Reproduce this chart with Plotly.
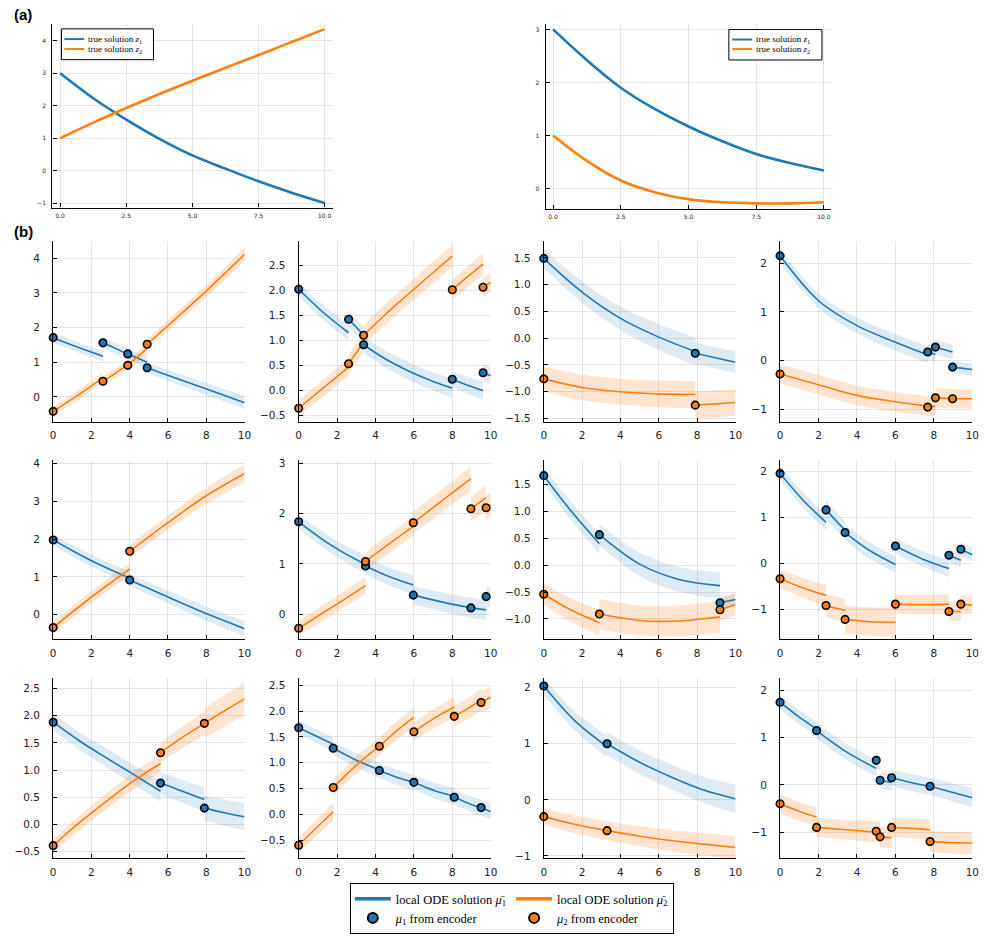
import plotly.graph_objects as go

W, H = 987, 938
BLUE = "#1f77b4"
ORANGE = "#ff7f0e"
BAND_BLUE = "rgba(31,119,180,0.15)"
BAND_ORANGE = "rgba(255,127,14,0.2)"

# ---------------- (a) true solutions ----------------
A_T = [0, 1.25, 2.5, 3.75, 5, 6.25, 7.5, 8.75, 10]
A1_Z1 = [3.0, 2.23, 1.57, 0.98, 0.47, 0.06, -0.33, -0.68, -1.0]
A1_Z2 = [1.0, 1.48, 1.93, 2.36, 2.77, 3.17, 3.56, 3.96, 4.36]
A2_Z1 = [3.0, 2.42, 1.90, 1.50, 1.17, 0.89, 0.65, 0.48, 0.34]
A2_Z2 = [1.0, 0.52, 0.15, -0.07, -0.20, -0.26, -0.28, -0.28, -0.26]
A_NAMES = ["true solution <i>z</i><sub>1</sub>", "true solution <i>z</i><sub>2</sub>"]

# ---------------- (b) panels ----------------
# row 1, col 1
B11_ENC_T = [0, 2.6, 3.9, 4.91]
B11_MU1 = [1.71, 1.56, 1.24, 0.84]
B11_MU2 = [-0.42, 0.45, 0.91, 1.52]
B11_SEG_T = [[0, 1.3, 2.6], [2.6, 3.25, 3.9], [3.9, 4.4, 4.91], [4.91, 6.2, 7.5, 8.75, 10]]
B11_SEG_M1 = [[1.71, 1.43, 1.17], [1.56, 1.40, 1.23], [1.24, 1.12, 1.0], [0.84, 0.58, 0.33, 0.08, -0.17]]
B11_SEG_M2 = [[-0.42, 0.05, 0.55], [0.45, 0.68, 0.93], [0.91, 1.15, 1.40], [1.52, 2.16, 2.80, 3.45, 4.12]]
B11_SEG_S1 = [[0.14, 0.15, 0.16], [0.15, 0.15, 0.16], [0.15, 0.16, 0.16], [0.15, 0.16, 0.17, 0.18, 0.19]]
B11_SEG_S2 = [[0.13, 0.14, 0.15], [0.14, 0.14, 0.15], [0.14, 0.15, 0.15], [0.14, 0.16, 0.17, 0.18, 0.19]]

# row 1, col 2
B12_ENC_T = [0, 2.6, 3.38, 8.0, 9.6]
B12_MU1 = [2.03, 1.43, 0.92, 0.23, 0.36]
B12_MU2 = [-0.35, 0.54, 1.11, 2.02, 2.07]
B12_SEG_T = [[0, 1.3, 2.6], [2.6, 3.0, 3.38], [3.38, 4.5, 5.7, 6.9, 8.0], [8.0, 8.8, 9.6], [9.6, 10]]
B12_SEG_M1 = [[2.03, 1.56, 1.16], [1.43, 1.27, 1.12], [0.92, 0.64, 0.40, 0.20, 0.05], [0.23, 0.11, 0.0], [0.36, 0.30]]
B12_SEG_M2 = [[-0.35, 0.06, 0.47], [0.54, 0.76, 0.98], [1.11, 1.52, 1.93, 2.33, 2.69], [2.02, 2.28, 2.53], [2.07, 2.17]]
B12_SEG_S1 = [[0.14, 0.15, 0.16], [0.15, 0.16, 0.16], [0.16, 0.17, 0.18, 0.18, 0.19], [0.16, 0.17, 0.18], [0.17, 0.17]]
B12_SEG_S2 = [[0.16, 0.17, 0.18], [0.18, 0.19, 0.2], [0.2, 0.21, 0.21, 0.22, 0.22], [0.2, 0.21, 0.22], [0.2, 0.2]]

# row 1, col 3
B13_ENC_T = [0, 7.9]
B13_MU1 = [1.49, -0.28]
B13_MU2 = [-0.76, -1.25]
B13_SEG_T = [[0, 2, 4, 6, 7.9], [7.9, 10]]
B13_SEG_M1 = [[1.49, 0.86, 0.37, 0.02, -0.25], [-0.28, -0.45]]
B13_SEG_M2 = [[-0.76, -0.92, -1.00, -1.04, -1.05], [-1.25, -1.20]]
B13_SEG_S1 = [[0.18, 0.2, 0.22, 0.24, 0.26], [0.2, 0.2]]
B13_SEG_S2 = [[0.23, 0.24, 0.24, 0.25, 0.25], [0.25, 0.25]]

# row 1, col 4
B14_ENC_T = [0, 7.68, 8.08, 8.97]
B14_MU1 = [2.15, 0.18, 0.28, -0.13]
B14_MU2 = [-0.27, -0.95, -0.76, -0.78]
B14_SEG_T = [[0, 2, 4, 6, 7.68], [7.68, 8.08], [8.08, 8.5, 8.97], [8.97, 10]]
B14_SEG_M1 = [[2.15, 1.23, 0.72, 0.38, 0.12], [0.18, 0.13], [0.28, 0.23, 0.18], [-0.13, -0.18]]
B14_SEG_M2 = [[-0.27, -0.49, -0.71, -0.84, -0.93], [-0.95, -0.93], [-0.76, -0.77, -0.78], [-0.78, -0.78]]
B14_SEG_S1 = [[0.14, 0.15, 0.16, 0.17, 0.17], [0.15, 0.15], [0.15, 0.15, 0.15], [0.12, 0.12]]
B14_SEG_S2 = [[0.2, 0.2, 0.2, 0.2, 0.2], [0.2, 0.2], [0.2, 0.2, 0.2], [0.2, 0.2]]

# row 2, col 1
B21_ENC_T = [0, 4.0]
B21_MU1 = [1.98, 0.92]
B21_MU2 = [-0.34, 1.68]
B21_SEG_T = [[0, 2, 4], [4, 6, 8, 10]]
B21_SEG_M1 = [[1.98, 1.43, 0.97], [0.92, 0.47, 0.03, -0.37]]
B21_SEG_M2 = [[-0.34, 0.47, 1.21], [1.68, 2.44, 3.15, 3.74]]
B21_SEG_S1 = [[0.15, 0.16, 0.17], [0.16, 0.17, 0.19, 0.2]]
B21_SEG_S2 = [[0.15, 0.16, 0.17], [0.17, 0.19, 0.22, 0.24]]

# row 2, col 2
B22_ENC_T = [0, 3.48, 5.97, 8.97, 9.76]
B22_MU1 = [1.84, 0.96, 0.38, 0.125, 0.35]
B22_MU2 = [-0.28, 1.05, 1.82, 2.10, 2.12]
B22_SEG_T = [[0, 1.74, 3.48], [3.48, 4.7, 5.97], [5.97, 7.5, 8.97], [8.97, 9.76], [9.76, 10]]
B22_SEG_M1 = [[1.84, 1.36, 0.99], [0.96, 0.75, 0.58], [0.38, 0.24, 0.125], [0.125, 0.085], [0.35, 0.33]]
B22_SEG_M2 = [[-0.28, 0.14, 0.57], [1.05, 1.40, 1.75], [1.82, 2.27, 2.70], [2.10, 2.32], [2.12, 2.18]]
B22_SEG_S1 = [[0.14, 0.16, 0.18], [0.17, 0.18, 0.19], [0.18, 0.19, 0.2], [0.2, 0.2], [0.2, 0.2]]
B22_SEG_S2 = [[0.15, 0.16, 0.17], [0.18, 0.19, 0.2], [0.22, 0.23, 0.24], [0.24, 0.25], [0.25, 0.25]]

# row 2, col 3
B23_ENC_T = [0, 2.9, 9.19]
B23_MU1 = [1.67, 0.57, -0.70]
B23_MU2 = [-0.54, -0.91, -0.83]
B23_SEG_T = [[0, 1.45, 2.9], [2.9, 5, 7, 9.19], [9.19, 10]]
B23_SEG_M1 = [[1.67, 1.0, 0.40], [0.57, 0.02, -0.26, -0.38], [-0.70, -0.64]]
B23_SEG_M2 = [[-0.54, -0.84, -1.07], [-0.91, -1.03, -1.04, -0.96], [-0.83, -0.73]]
B23_SEG_S1 = [[0.15, 0.17, 0.19], [0.2, 0.22, 0.23, 0.24], [0.12, 0.12]]
B23_SEG_S2 = [[0.2, 0.22, 0.24], [0.28, 0.28, 0.29, 0.3], [0.2, 0.2]]

# row 2, col 4
B24_ENC_T = [0, 2.39, 3.38, 6.0, 8.78, 9.4]
B24_MU1 = [1.95, 1.16, 0.67, 0.38, 0.18, 0.31]
B24_MU2 = [-0.33, -0.91, -1.21, -0.88, -1.04, -0.88]
B24_SEG_T = [[0, 1.2, 2.39], [2.39, 2.9, 3.38], [3.38, 4.7, 6.0], [6.0, 7.4, 8.78], [8.78, 9.4], [9.4, 10]]
B24_SEG_M1 = [[1.95, 1.37, 0.89], [1.16, 0.93, 0.72], [0.67, 0.27, -0.02], [0.38, 0.10, -0.11], [0.18, 0.07], [0.31, 0.19]]
B24_SEG_M2 = [[-0.33, -0.53, -0.69], [-0.91, -0.97, -1.01], [-1.21, -1.26, -1.27], [-0.88, -0.89, -0.88], [-1.04, -1.04], [-0.88, -0.90]]
B24_SEG_S1 = [[0.15, 0.16, 0.17], [0.2, 0.2, 0.2], [0.17, 0.18, 0.18], [0.16, 0.17, 0.18], [0.15, 0.15], [0.15, 0.15]]
B24_SEG_S2 = [[0.2, 0.21, 0.22], [0.25, 0.25, 0.25], [0.3, 0.31, 0.32], [0.21, 0.21, 0.21], [0.2, 0.2], [0.2, 0.2]]

# row 3, col 1
B31_ENC_T = [0, 5.61, 7.9]
B31_MU1 = [1.88, 0.76, 0.30]
B31_MU2 = [-0.39, 1.32, 1.86]
B31_SEG_T = [[0, 1.4, 2.8, 4.2, 5.61], [5.61, 6.75, 7.9], [7.9, 9, 10]]
B31_SEG_M1 = [[1.88, 1.53, 1.22, 0.92, 0.61], [0.76, 0.61, 0.46], [0.30, 0.21, 0.14]]
B31_SEG_M2 = [[-0.39, 0.04, 0.43, 0.80, 1.12], [1.32, 1.60, 1.86], [1.86, 2.10, 2.31]]
B31_SEG_S1 = [[0.15, 0.16, 0.17, 0.18, 0.19], [0.2, 0.21, 0.22], [0.23, 0.24, 0.25]]
B31_SEG_S2 = [[0.13, 0.14, 0.15, 0.16, 0.17], [0.18, 0.2, 0.22], [0.27, 0.29, 0.3]]

# row 3, col 2
B32_ENC_T = [0, 1.8, 4.2, 6.0, 8.1, 9.5]
B32_MU1 = [1.68, 1.28, 0.85, 0.62, 0.33, 0.13]
B32_MU2 = [-0.6, 0.52, 1.32, 1.60, 1.90, 2.17]
B32_SEG_T = [[0, 0.9, 1.8], [1.8, 3.0, 4.2], [4.2, 5.1, 6.0], [6.0, 7.05, 8.1], [8.1, 8.8, 9.5], [9.5, 10]]
B32_SEG_M1 = [[1.68, 1.52, 1.36], [1.28, 1.05, 0.86], [0.85, 0.72, 0.62], [0.62, 0.46, 0.35], [0.33, 0.22, 0.12], [0.13, 0.05]]
B32_SEG_M2 = [[-0.6, -0.27, 0.05], [0.52, 0.95, 1.32], [1.32, 1.62, 1.88], [1.60, 1.86, 2.08], [1.90, 2.05, 2.22], [2.17, 2.27]]
B32_SEG_S1 = [[0.13, 0.13, 0.14], [0.13, 0.14, 0.15], [0.14, 0.15, 0.15], [0.14, 0.15, 0.16], [0.15, 0.15, 0.16], [0.15, 0.15]]
B32_SEG_S2 = [[0.15, 0.16, 0.17], [0.16, 0.17, 0.18], [0.17, 0.18, 0.19], [0.18, 0.19, 0.2], [0.2, 0.2, 0.21], [0.21, 0.21]]

# row 3, col 3
B33_ENC_T = [0, 3.3]
B33_MU1 = [2.03, 1.0]
B33_MU2 = [-0.3, -0.55]
B33_SEG_T = [[0, 1.65, 3.3], [3.3, 5, 6.7, 8.3, 10]]
B33_SEG_M1 = [[2.03, 1.40, 0.95], [1.0, 0.67, 0.40, 0.18, 0.02]]
B33_SEG_M2 = [[-0.3, -0.44, -0.55], [-0.55, -0.65, -0.73, -0.79, -0.85]]
B33_SEG_S1 = [[0.15, 0.17, 0.19], [0.2, 0.21, 0.22, 0.23, 0.25]]
B33_SEG_S2 = [[0.15, 0.16, 0.17], [0.17, 0.18, 0.19, 0.2, 0.2]]

# row 3, col 4
B34_ENC_T = [0, 1.9, 5.0, 5.2, 5.8, 7.8]
B34_MU1 = [1.75, 1.15, 0.52, 0.1, 0.15, -0.03]
B34_MU2 = [-0.4, -0.9, -0.98, -1.1, -0.9, -1.2]
B34_SEG_T = [[0, 0.95, 1.9], [1.9, 3.45, 5.0], [5.0, 5.2], [5.2, 5.8], [5.8, 6.8, 7.8], [7.8, 8.9, 10]]
B34_SEG_M1 = [[1.75, 1.45, 1.18], [1.15, 0.70, 0.35], [0.52, 0.49], [0.1, 0.05], [0.15, 0.05, -0.03], [-0.03, -0.15, -0.27]]
B34_SEG_M2 = [[-0.4, -0.55, -0.68], [-0.9, -0.95, -1.0], [-0.98, -0.99], [-1.1, -1.12], [-0.9, -0.92, -0.95], [-1.2, -1.22, -1.23]]
B34_SEG_S1 = [[0.15, 0.15, 0.16], [0.16, 0.17, 0.18], [0.17, 0.17], [0.17, 0.17], [0.17, 0.18, 0.18], [0.18, 0.19, 0.2]]
B34_SEG_S2 = [[0.2, 0.2, 0.2], [0.2, 0.21, 0.22], [0.22, 0.22], [0.22, 0.22], [0.2, 0.21, 0.22], [0.22, 0.23, 0.24]]

# y-axis ranges and ticks of the (b) panels
B_YRANGE = [[-0.72, 4.51], [-0.62, 3.0], [-1.56, 1.82], [-1.25, 2.46],
            [-0.65, 4.11], [-0.5, 3.08], [-1.38, 1.97], [-1.64, 2.25],
            [-0.62, 2.70], [-0.85, 2.65], [-1.04, 2.18], [-1.55, 2.27]]
B_YTICKS = [[0, 1, 2, 3, 4], [-0.5, 0, 0.5, 1, 1.5, 2, 2.5], [-1.5, -1, -0.5, 0, 0.5, 1, 1.5], [-1, 0, 1, 2],
            [0, 1, 2, 3, 4], [0, 1, 2, 3], [-1, -0.5, 0, 0.5, 1, 1.5], [-1, 0, 1, 2],
            [-0.5, 0, 0.5, 1, 1.5, 2, 2.5], [-0.5, 0, 0.5, 1, 1.5, 2, 2.5], [-1, 0, 1, 2], [-1, 0, 1, 2]]
B_XTICKS = [0, 2, 4, 6, 8, 10]
A_XTICKS = [0, 2.5, 5, 7.5, 10]

PANELS = [
    (B11_ENC_T, B11_MU1, B11_MU2, B11_SEG_T, B11_SEG_M1, B11_SEG_M2, B11_SEG_S1, B11_SEG_S2),
    (B12_ENC_T, B12_MU1, B12_MU2, B12_SEG_T, B12_SEG_M1, B12_SEG_M2, B12_SEG_S1, B12_SEG_S2),
    (B13_ENC_T, B13_MU1, B13_MU2, B13_SEG_T, B13_SEG_M1, B13_SEG_M2, B13_SEG_S1, B13_SEG_S2),
    (B14_ENC_T, B14_MU1, B14_MU2, B14_SEG_T, B14_SEG_M1, B14_SEG_M2, B14_SEG_S1, B14_SEG_S2),
    (B21_ENC_T, B21_MU1, B21_MU2, B21_SEG_T, B21_SEG_M1, B21_SEG_M2, B21_SEG_S1, B21_SEG_S2),
    (B22_ENC_T, B22_MU1, B22_MU2, B22_SEG_T, B22_SEG_M1, B22_SEG_M2, B22_SEG_S1, B22_SEG_S2),
    (B23_ENC_T, B23_MU1, B23_MU2, B23_SEG_T, B23_SEG_M1, B23_SEG_M2, B23_SEG_S1, B23_SEG_S2),
    (B24_ENC_T, B24_MU1, B24_MU2, B24_SEG_T, B24_SEG_M1, B24_SEG_M2, B24_SEG_S1, B24_SEG_S2),
    (B31_ENC_T, B31_MU1, B31_MU2, B31_SEG_T, B31_SEG_M1, B31_SEG_M2, B31_SEG_S1, B31_SEG_S2),
    (B32_ENC_T, B32_MU1, B32_MU2, B32_SEG_T, B32_SEG_M1, B32_SEG_M2, B32_SEG_S1, B32_SEG_S2),
    (B33_ENC_T, B33_MU1, B33_MU2, B33_SEG_T, B33_SEG_M1, B33_SEG_M2, B33_SEG_S1, B33_SEG_S2),
    (B34_ENC_T, B34_MU1, B34_MU2, B34_SEG_T, B34_SEG_M1, B34_SEG_M2, B34_SEG_S1, B34_SEG_S2),
]

# ---------------- layout geometry (pixels) ----------------
A_BOXES = [(50, 333, 21.7, 206.7), (548.3, 836.7, 21.7, 208.3)]
A_XRANGE = [[-0.29, 10.3], [-0.27, 10.27]]
A_YRANGE = [[-1.14, 4.53], [-0.39, 3.11]]
A_YTICKS = [[-1, 0, 1, 2, 3, 4], [0, 1, 2, 3]]
# legend boxes of (a): left, top, right, bottom, sample line x0, x1, row y's
A_LEG = [(59, 27, 152, 58, 62, 82, 37.3, 47.3), (733.3, 27.7, 827.3, 58.3, 736.7, 756.7, 37.7, 47.3)]
B_COLS = [(50.7, 244), (298.7, 492.7), (546.3, 740), (785, 979.3)]
B_ROWS = [(240, 422), (460, 640.7), (679.3, 860.7)]

TICK_FONT = dict(family="DejaVu Sans", size=10.5, color="#222")
SMALL_FONT = dict(family="DejaVu Sans", size=6, color="#222")
SERIF = "Liberation Serif"


def px(x):
    return x / W


def py(y):
    return 1 - y / H


def xdom(l, r):
    return [px(l), px(r)]


def ydom(t, b):
    return [py(b), py(t)]


fig = go.Figure()
layout_axes = {}
shapes = []
annotations = []


def axnames(i):
    return ("x" if i == 1 else f"x{i}", "y" if i == 1 else f"y{i}",
            "xaxis" if i == 1 else f"xaxis{i}", "yaxis" if i == 1 else f"yaxis{i}")


def axis_style(font, tickvals, rng, dom, anchor, fmt, standoff):
    return dict(domain=dom, range=rng, anchor=anchor, tickvals=tickvals, tickformat=fmt,
                showline=True, linecolor="black", linewidth=1.2, mirror=False,
                showgrid=True, gridcolor="rgba(0,0,0,0.1)", gridwidth=1, zeroline=False,
                ticks="inside", ticklen=4, tickcolor="black", tickwidth=1,
                tickfont=font, ticklabelstandoff=standoff, ticklabeloverflow="allow", fixedrange=True)


# ---- (a) panels
A_DATA = [(A1_Z1, A1_Z2), (A2_Z1, A2_Z2)]
for k in range(2):
    i = k + 1
    xa, ya, xk, yk = axnames(i)
    l, r, t, b = A_BOXES[k]
    z1, z2 = A_DATA[k]
    for z, color in ((z1, BLUE), (z2, ORANGE)):
        fig.add_trace(go.Scatter(x=A_T, y=z, mode="lines", line=dict(color=color, width=2.6, shape="spline"),
                                 xaxis=xa, yaxis=ya, showlegend=False, hoverinfo="skip"))
    layout_axes[xk] = axis_style(SMALL_FONT, A_XTICKS, A_XRANGE[k], xdom(l, r), ya, ".1f", 2)
    layout_axes[yk] = axis_style(SMALL_FONT, A_YTICKS[k], A_YRANGE[k], ydom(t, b), xa, "d", 4)
    # legend box of the panel
    bl, bt, br, bb, lx0, lx1, ry1, ry2 = A_LEG[k]
    shapes.append(dict(type="rect", xref="paper", yref="paper", x0=px(bl), x1=px(br), y0=py(bb), y1=py(bt),
                       line=dict(color="black", width=1), fillcolor="white", layer="above"))
    for name, color, ry in ((A_NAMES[0], BLUE, ry1), (A_NAMES[1], ORANGE, ry2)):
        shapes.append(dict(type="line", xref="paper", yref="paper", x0=px(lx0), x1=px(lx1), y0=py(ry), y1=py(ry),
                           line=dict(color=color, width=2), layer="above"))
        annotations.append(dict(text=name, xref="paper", yref="paper", x=px(lx1 + 2), y=py(ry),
                                xanchor="left", yanchor="middle", showarrow=False,
                                font=dict(family=SERIF, size=9, color="black")))

# ---- (b) panels
for p, (enc_t, mu1, mu2, seg_t, seg_m1, seg_m2, seg_s1, seg_s2) in enumerate(PANELS):
    i = p + 3
    xa, ya, xk, yk = axnames(i)
    row, col = divmod(p, 4)
    l, r = B_COLS[col]
    t, b = B_ROWS[row]
    common = dict(xaxis=xa, yaxis=ya, showlegend=False, hoverinfo="skip")
    # uncertainty bands
    for segs_m, segs_s, band in ((seg_m1, seg_s1, BAND_BLUE), (seg_m2, seg_s2, BAND_ORANGE)):
        for tt, mm, ss in zip(seg_t, segs_m, segs_s):
            lo = [m - s for m, s in zip(mm, ss)]
            hi = [m + s for m, s in zip(mm, ss)]
            fig.add_trace(go.Scatter(x=tt, y=lo, mode="lines", line=dict(width=0, shape="spline"), **common))
            fig.add_trace(go.Scatter(x=tt, y=hi, mode="lines", line=dict(width=0, shape="spline"),
                                     fill="tonexty", fillcolor=band, **common))
    # local ODE solutions
    for segs_m, color in ((seg_m1, BLUE), (seg_m2, ORANGE)):
        for tt, mm in zip(seg_t, segs_m):
            fig.add_trace(go.Scatter(x=tt, y=mm, mode="lines", line=dict(color=color, width=1.6, shape="spline"),
                                     **common))
    # encoder means
    for mu, color in ((mu1, BLUE), (mu2, ORANGE)):
        fig.add_trace(go.Scatter(x=enc_t, y=mu, mode="markers", cliponaxis=False,
                                 marker=dict(size=7.5, color=color, line=dict(color="black", width=1.6)),
                                 **common))
    yt = B_YTICKS[p]
    fmt = "d" if all(float(v).is_integer() for v in yt) else ".1f"
    layout_axes[xk] = axis_style(TICK_FONT, B_XTICKS, [0, 10], xdom(l, r), ya, "d", 4)
    layout_axes[yk] = axis_style(TICK_FONT, yt, B_YRANGE[p], ydom(t, b), xa, fmt, 10)

# ---- bottom legend entries
LEG_NAMES = ["local ODE solution <i>μ̄</i><sub>1</sub>", "<i>μ</i><sub>1</sub> from encoder",
             "local ODE solution <i>μ̄</i><sub>2</sub>", "<i>μ</i><sub>2</sub> from encoder"]
fig.add_trace(go.Scatter(x=[None], y=[None], mode="lines", line=dict(color=BLUE, width=3.5), name=LEG_NAMES[0],
                         legendgroup="g1", xaxis="x3", yaxis="y3"))
fig.add_trace(go.Scatter(x=[None], y=[None], mode="markers", name=LEG_NAMES[1],
                         marker=dict(size=10, color=BLUE, line=dict(color="black", width=2)),
                         legendgroup="g1", xaxis="x3", yaxis="y3"))
fig.add_trace(go.Scatter(x=[None], y=[None], mode="lines", line=dict(color=ORANGE, width=3.5), name=LEG_NAMES[2],
                         legendgroup="g2", xaxis="x3", yaxis="y3"))
fig.add_trace(go.Scatter(x=[None], y=[None], mode="markers", name=LEG_NAMES[3],
                         marker=dict(size=10, color=ORANGE, line=dict(color="black", width=2)),
                         legendgroup="g2", xaxis="x3", yaxis="y3"))

for txt, yy in (("<b>(a)</b>", 13), ("<b>(b)</b>", 231)):
    annotations.append(dict(text=txt, x=px(9), y=py(yy), xref="paper", yref="paper", xanchor="left",
                            yanchor="middle", showarrow=False,
                            font=dict(family="Liberation Sans", size=15, color="black")))

fig.update_layout(
    width=W, height=H, margin=dict(l=0, r=0, t=0, b=0),
    paper_bgcolor="white", plot_bgcolor="white",
    legend=dict(orientation="h", traceorder="grouped", bgcolor="white", bordercolor="black", borderwidth=1,
                font=dict(family=SERIF, size=12.5, color="black"), x=px(514), xanchor="center",
                y=py(937), yanchor="bottom", tracegroupgap=2, itemwidth=36),
    shapes=shapes,
    annotations=annotations,
    **layout_axes,
)

fig.write_html("out.html", config={"displayModeBar": False},
               post_script="document.body.style.margin='0';document.body.style.overflow='hidden';")
